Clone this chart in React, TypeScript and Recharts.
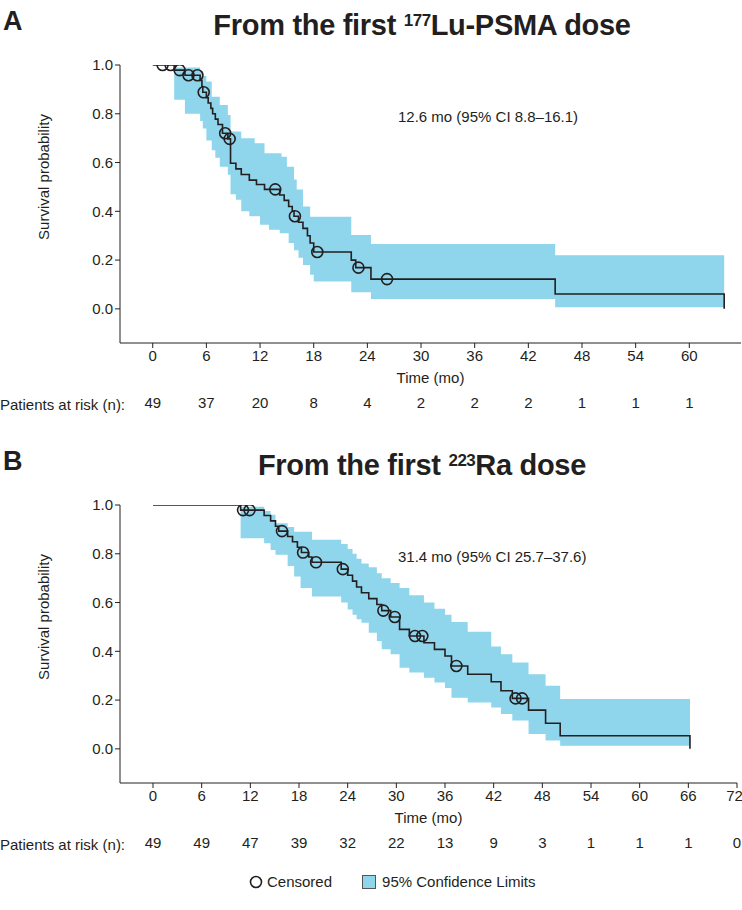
import React from "react";
import { ComposedChart, Area, Line, Scatter, XAxis, YAxis } from "recharts";

// Panel A - from the first 177Lu-PSMA dose
const kmTimesA = [0, 2.4, 3.6, 5.3, 5.5, 5.6, 6.0, 6.2, 6.5, 6.7, 7.0, 7.3, 7.8, 8.4, 8.7, 9.3, 9.9, 10.8, 11.6, 12.5, 14.2, 14.7, 15.2, 15.6, 15.8, 16.3, 16.8, 17.3, 17.6, 18.0, 22.2, 22.7, 24.4, 45.0, 63.9];
const kmSurvA = [1.0, 0.979, 0.958, 0.937, 0.912, 0.888, 0.866, 0.844, 0.822, 0.8, 0.778, 0.756, 0.72, 0.697, 0.597, 0.574, 0.551, 0.528, 0.51, 0.49, 0.467, 0.445, 0.42, 0.4, 0.38, 0.355, 0.33, 0.3, 0.27, 0.233, 0.2, 0.169, 0.122, 0.061, 0.0];
const ciTimesA = [2.4, 3.6, 5.3, 5.6, 6.0, 6.6, 7.0, 7.5, 8.4, 8.7, 9.3, 9.9, 10.8, 11.4, 12.0, 12.5, 13.0, 14.2, 14.4, 15.0, 15.2, 15.8, 16.1, 16.3, 16.8, 17.6, 18.0, 22.2, 24.4, 45.0, 63.9];
const ciLowerA = [0.857, 0.8, 0.77, 0.74, 0.69, 0.65, 0.62, 0.583, 0.55, 0.47, 0.447, 0.4, 0.38, 0.38, 0.345, 0.345, 0.324, 0.31, 0.31, 0.31, 0.27, 0.24, 0.24, 0.21, 0.18, 0.14, 0.112, 0.068, 0.04, 0.007, 0.007];
const ciUpperA = [0.99, 0.99, 0.975, 0.955, 0.932, 0.87, 0.87, 0.836, 0.795, 0.727, 0.727, 0.7, 0.7, 0.679, 0.679, 0.638, 0.638, 0.638, 0.624, 0.583, 0.583, 0.53, 0.489, 0.489, 0.42, 0.378, 0.378, 0.303, 0.266, 0.22, 0.22];
const censTimesA = [1.1, 2.0, 3.0, 4.0, 5.0, 5.7, 8.1, 8.6, 13.7, 15.9, 18.4, 23.0, 26.2];
const censSurvA = [1.0, 1.0, 0.979, 0.958, 0.958, 0.888, 0.72, 0.697, 0.49, 0.38, 0.233, 0.169, 0.122];
const ticksA = [0, 6, 12, 18, 24, 30, 36, 42, 48, 54, 60];
const riskA = [49, 37, 20, 8, 4, 2, 2, 2, 1, 1, 1];

// Panel B - from the first 223Ra dose
const kmTimesB = [0, 10.8, 13.7, 14.5, 15.1, 15.5, 16.6, 17.2, 17.8, 18.3, 19.2, 19.6, 23.2, 24.0, 24.6, 25.1, 25.7, 26.6, 27.6, 28.2, 29.3, 30.4, 31.6, 33.4, 34.7, 36.0, 36.8, 38.8, 41.7, 42.9, 44.3, 46.3, 48.4, 50.2, 66.2];
const kmSurvB = [1.0, 0.979, 0.957, 0.935, 0.913, 0.893, 0.871, 0.849, 0.827, 0.805, 0.787, 0.765, 0.737, 0.712, 0.688, 0.664, 0.64, 0.616, 0.592, 0.567, 0.541, 0.49, 0.463, 0.435, 0.408, 0.381, 0.34, 0.306, 0.275, 0.238, 0.207, 0.159, 0.105, 0.054, 0.0];
const ciTimesB = [10.8, 13.7, 14.5, 15.1, 16.6, 17.4, 18.2, 19.6, 23.2, 24.0, 24.6, 25.1, 25.7, 26.6, 27.6, 28.2, 29.3, 30.4, 31.6, 33.4, 34.7, 36.0, 36.8, 38.8, 41.7, 42.9, 44.3, 46.3, 48.4, 50.2, 66.2];
const ciLowerB = [0.864, 0.843, 0.815, 0.796, 0.75, 0.707, 0.66, 0.625, 0.6, 0.571, 0.55, 0.531, 0.517, 0.476, 0.442, 0.408, 0.388, 0.333, 0.313, 0.292, 0.272, 0.25, 0.21, 0.19, 0.17, 0.143, 0.116, 0.061, 0.034, 0.013, 0.013];
const ciUpperB = [0.993, 0.975, 0.96, 0.925, 0.91, 0.89, 0.89, 0.857, 0.84, 0.82, 0.8, 0.78, 0.76, 0.745, 0.72, 0.7, 0.68, 0.66, 0.63, 0.6, 0.575, 0.55, 0.52, 0.48, 0.42, 0.388, 0.354, 0.306, 0.259, 0.204, 0.204];
const censTimesB = [11.1, 11.9, 15.9, 18.5, 20.1, 23.4, 28.4, 29.8, 32.3, 33.2, 37.4, 44.7, 45.5];
const censSurvB = [0.979, 0.979, 0.893, 0.805, 0.765, 0.737, 0.567, 0.541, 0.463, 0.463, 0.34, 0.207, 0.207];
const ticksB = [0, 6, 12, 18, 24, 30, 36, 42, 48, 54, 60, 66, 72];
const riskB = [49, 49, 47, 39, 32, 22, 13, 9, 3, 1, 1, 1, 0];

const yTicks = [0, 0.2, 0.4, 0.6, 0.8, 1.0];

const FONT = '"Liberation Sans", Arial, Helvetica, sans-serif';
const INK = "#231f20";
const BAND = "#8fd5ec";

// value of a step function at time t
function stepAt(times: number[], vals: number[], t: number) {
  let v: number | null = null;
  for (let i = 0; i < times.length; i++) {
    if (times[i] <= t) v = vals[i];
    else break;
  }
  return v;
}

function buildTable(kmT: number[], kmS: number[], ciT: number[], lo: number[], hi: number[]) {
  const all = Array.from(new Set([...kmT, ...ciT])).sort((a, b) => a - b);
  return all.map((t) => {
    const inCi = t >= ciT[0] && t <= ciT[ciT.length - 1];
    return {
      t,
      s: stepAt(kmT, kmS, t),
      ci: inCi ? [stepAt(ciT, lo, t), stepAt(ciT, hi, t)] : null,
    };
  });
}

const Circle = (p: any) => (
  <circle cx={p.cx} cy={p.cy} r={5.5} fill="none" stroke={INK} strokeWidth={1.6} />
);

function Panel(props: any) {
  const { top, letter, iso, rest, note, domain, ticks, risk, right } = props;
  const data = buildTable(props.kmT, props.kmS, props.ciT, props.ciLo, props.ciHi);
  const cens = props.cT.map((t: number, i: number) => ({ t, s: props.cS[i] }));
  const tickStyle = { fontSize: 15, fill: INK, fontFamily: FONT };

  return (
    <div style={{ position: "absolute", left: 0, top, width: 742, height: 440 }}>
      <div style={{ position: "absolute", left: 3, top: 6, fontSize: 27, fontWeight: 700, lineHeight: "30px", color: INK }}>
        {letter}
      </div>
      <div style={{ position: "absolute", left: 100, width: 644, top: 6, textAlign: "center", fontSize: 29, fontWeight: 700, lineHeight: "30px", color: INK, letterSpacing: -0.3 }}>
        From the first <sup style={{ fontSize: 17, verticalAlign: "9px", letterSpacing: -0.5 }}>{iso}</sup>{rest} dose
      </div>
      <div style={{ position: "absolute", left: 398, top: 108, fontSize: 15, lineHeight: "18px", color: INK }}>{note}</div>
      <div style={{ position: "absolute", left: 43, top: 177, transform: "translate(-50%, -50%) rotate(-90deg)", fontSize: 15, whiteSpace: "nowrap", color: INK }}>
        Survival probability
      </div>
      <div style={{ position: "absolute", left: 0, top: 396, fontSize: 15, lineHeight: "18px", color: INK }}>Patients at risk (n):</div>

      <ComposedChart width={742} height={440} data={data} margin={{ top: 65, right: right, left: 70, bottom: 27 }}>
        <XAxis
          dataKey="t"
          type="number"
          domain={domain}
          ticks={ticks}
          allowDataOverflow
          tick={tickStyle}
          tickSize={5}
          stroke={INK}
          height={40}
          label={{ value: "Time (mo)", position: "insideBottom", offset: 0, style: { fontSize: 15, fill: INK, fontFamily: FONT } }}
        />
        <XAxis
          xAxisId="risk"
          dataKey="t"
          type="number"
          domain={domain}
          ticks={ticks}
          allowDataOverflow
          axisLine={false}
          tickLine={false}
          tick={tickStyle}
          tickMargin={8}
          height={30}
          tickFormatter={(v: number) => String(risk[ticks.indexOf(v)])}
        />
        <YAxis
          type="number"
          domain={[-0.14, 1]}
          ticks={yTicks}
          allowDataOverflow
          width={50}
          tick={tickStyle}
          tickSize={5}
          stroke={INK}
          tickFormatter={(v: number) => v.toFixed(1)}
        />
        <Area
          dataKey="ci"
          type="stepAfter"
          fill={BAND}
          fillOpacity={1}
          stroke="none"
          isAnimationActive={false}
        />
        <Line
          dataKey="s"
          type="stepAfter"
          stroke={INK}
          strokeWidth={1.6}
          dot={false}
          isAnimationActive={false}
        />
        <Scatter data={cens} dataKey="s" shape={Circle} isAnimationActive={false} />
      </ComposedChart>
    </div>
  );
}

export default function App() {
  return (
    <div style={{ position: "absolute", left: 0, top: 0, width: 742, height: 910, background: "#fff", fontFamily: FONT, overflow: "hidden" }}>
      <Panel
        top={0}
        letter="A"
        iso="177"
        rest="Lu-PSMA"
        note="12.6 mo (95% CI 8.8–16.1)"
        domain={[-3.66, 65.78]}
        ticks={ticksA}
        risk={riskA}
        right={1}
        kmT={kmTimesA}
        kmS={kmSurvA}
        ciT={ciTimesA}
        ciLo={ciLowerA}
        ciHi={ciUpperA}
        cT={censTimesA}
        cS={censSurvA}
      />
      <Panel
        top={440}
        letter="B"
        iso="223"
        rest="Ra"
        note="31.4 mo (95% CI 25.7–37.6)"
        domain={[-4.07, 72]}
        ticks={ticksB}
        risk={riskB}
        right={5}
        kmT={kmTimesB}
        kmS={kmSurvB}
        ciT={ciTimesB}
        ciLo={ciLowerB}
        ciHi={ciUpperB}
        cT={censTimesB}
        cS={censSurvB}
      />
      <div style={{ position: "absolute", top: 873, left: 249, display: "flex", alignItems: "center", fontSize: 15, lineHeight: "18px", color: INK }}>
        <svg width={14} height={14} style={{ marginRight: 4 }}>
          <circle cx={7} cy={7} r={5.5} fill="none" stroke={INK} strokeWidth={1.6} />
        </svg>
        <span style={{ marginRight: 30 }}>Censored</span>
        <span style={{ display: "inline-block", width: 12, height: 12, background: BAND, border: "1px solid #555", marginRight: 6 }} />
        <span>95% Confidence Limits</span>
      </div>
    </div>
  );
}
